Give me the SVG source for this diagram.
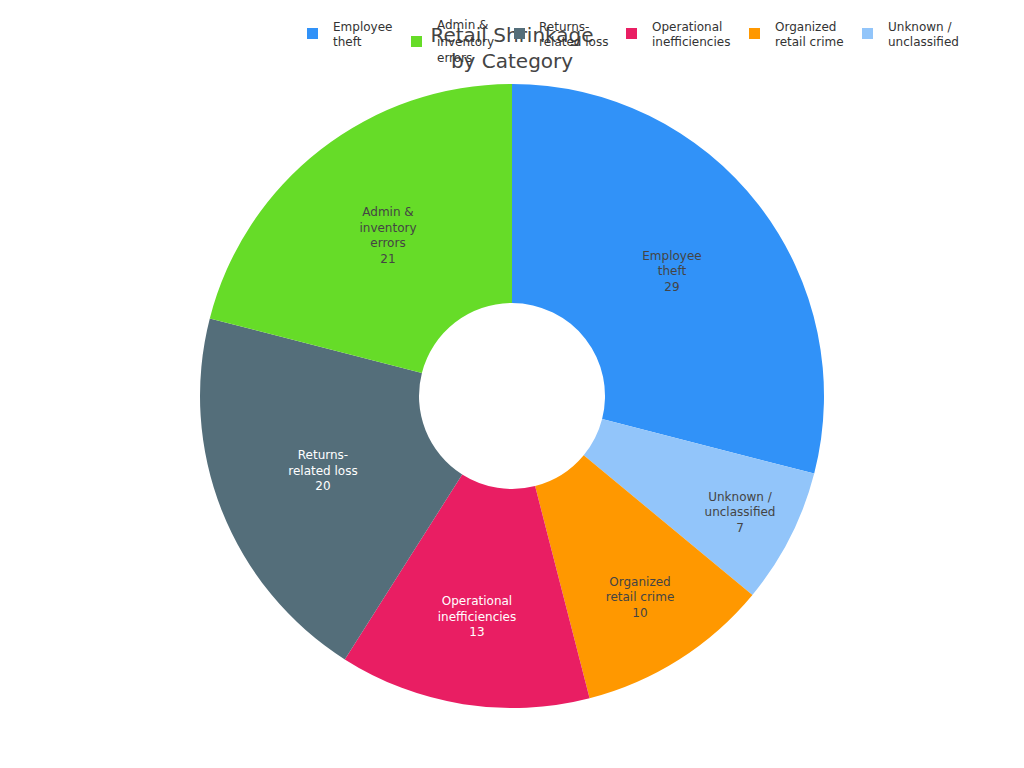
<svg xmlns="http://www.w3.org/2000/svg" width="1024" height="768" viewBox="0 0 1024 768">
<style>
text{font-family:"DejaVu Sans","Liberation Sans",sans-serif;fill:#444}
.l{font-size:12px}
.lg{font-size:12px;fill:#333}
.w{fill:#fff}
.t{font-size:20px;fill:#444}
</style>
<rect width="1024" height="768" fill="#fff"/>
<g id="slices">
<g id="employee"><path d="M512,84 A312,312 0 0 1 814.2,473.6 L602.1,419.1 A93,93 0 0 0 512,303 Z" fill="#3192F8"/>
<text class="l" text-anchor="middle" x="672" y="260">Employee</text><text class="l" text-anchor="middle" x="672" y="275">theft</text><text class="l" text-anchor="middle" x="672" y="291">29</text></g>
<g id="unknown"><path d="M814.2,473.6 A312,312 0 0 1 752.4,594.9 L583.7,455.3 A93,93 0 0 0 602.1,419.1 Z" fill="#92C5FA"/>
<text class="l" text-anchor="middle" x="740" y="501">Unknown /</text><text class="l" text-anchor="middle" x="740" y="516">unclassified</text><text class="l" text-anchor="middle" x="740" y="532">7</text></g>
<g id="organized"><path d="M752.4,594.9 A312,312 0 0 1 589.6,698.2 L535.1,486.1 A93,93 0 0 0 583.7,455.3 Z" fill="#FF9800"/>
<text class="l" text-anchor="middle" x="640" y="586">Organized</text><text class="l" text-anchor="middle" x="640" y="601">retail crime</text><text class="l" text-anchor="middle" x="640" y="617">10</text></g>
<g id="operational"><path d="M589.6,698.2 A312,312 0 0 1 344.8,659.4 L462.2,474.5 A93,93 0 0 0 535.1,486.1 Z" fill="#E91E63"/>
<text class="l w" text-anchor="middle" x="477" y="605">Operational</text><text class="l w" text-anchor="middle" x="477" y="621">inefficiencies</text><text class="l w" text-anchor="middle" x="477" y="636">13</text></g>
<g id="returns"><path d="M344.8,659.4 A312,312 0 0 1 209.8,318.4 L421.9,372.9 A93,93 0 0 0 462.2,474.5 Z" fill="#546E7A"/>
<text class="l w" text-anchor="middle" x="323" y="459">Returns-</text><text class="l w" text-anchor="middle" x="323" y="475">related loss</text><text class="l w" text-anchor="middle" x="323" y="490">20</text></g>
<g id="admin"><path d="M209.8,318.4 A312,312 0 0 1 512,84 L512,303 A93,93 0 0 0 421.9,372.9 Z" fill="#66DC28"/>
<text class="l" text-anchor="middle" x="388" y="216">Admin &amp;</text><text class="l" text-anchor="middle" x="388" y="232">inventory</text><text class="l" text-anchor="middle" x="388" y="247">errors</text><text class="l" text-anchor="middle" x="388" y="263">21</text></g>
</g>
<g id="title"><text class="t" text-anchor="middle" x="512" y="42">Retail Shrinkage</text><text class="t" text-anchor="middle" x="512" y="68">by Category</text></g>
<g id="legend">
<rect x="307" y="28" width="11" height="11" fill="#3192F8"/><text class="lg" x="333" y="31">Employee</text><text class="lg" x="333" y="46">theft</text>
<rect x="411" y="36" width="11" height="11" fill="#66DC28"/><text class="lg" x="437" y="29">Admin &amp;</text><text class="lg" x="437" y="46">inventory</text><text class="lg" x="437" y="62">errors</text>
<rect x="514" y="28" width="11" height="11" fill="#546E7A"/><text class="lg" x="539" y="31">Returns-</text><text class="lg" x="539" y="46">related loss</text>
<rect x="626" y="28" width="11" height="11" fill="#E91E63"/><text class="lg" x="652" y="31">Operational</text><text class="lg" x="652" y="46">inefficiencies</text>
<rect x="749" y="28" width="11" height="11" fill="#FF9800"/><text class="lg" x="775" y="31">Organized</text><text class="lg" x="775" y="46">retail crime</text>
<rect x="862" y="28" width="11" height="11" fill="#92C5FA"/><text class="lg" x="888" y="31">Unknown /</text><text class="lg" x="888" y="46">unclassified</text>
</g>
</svg>
